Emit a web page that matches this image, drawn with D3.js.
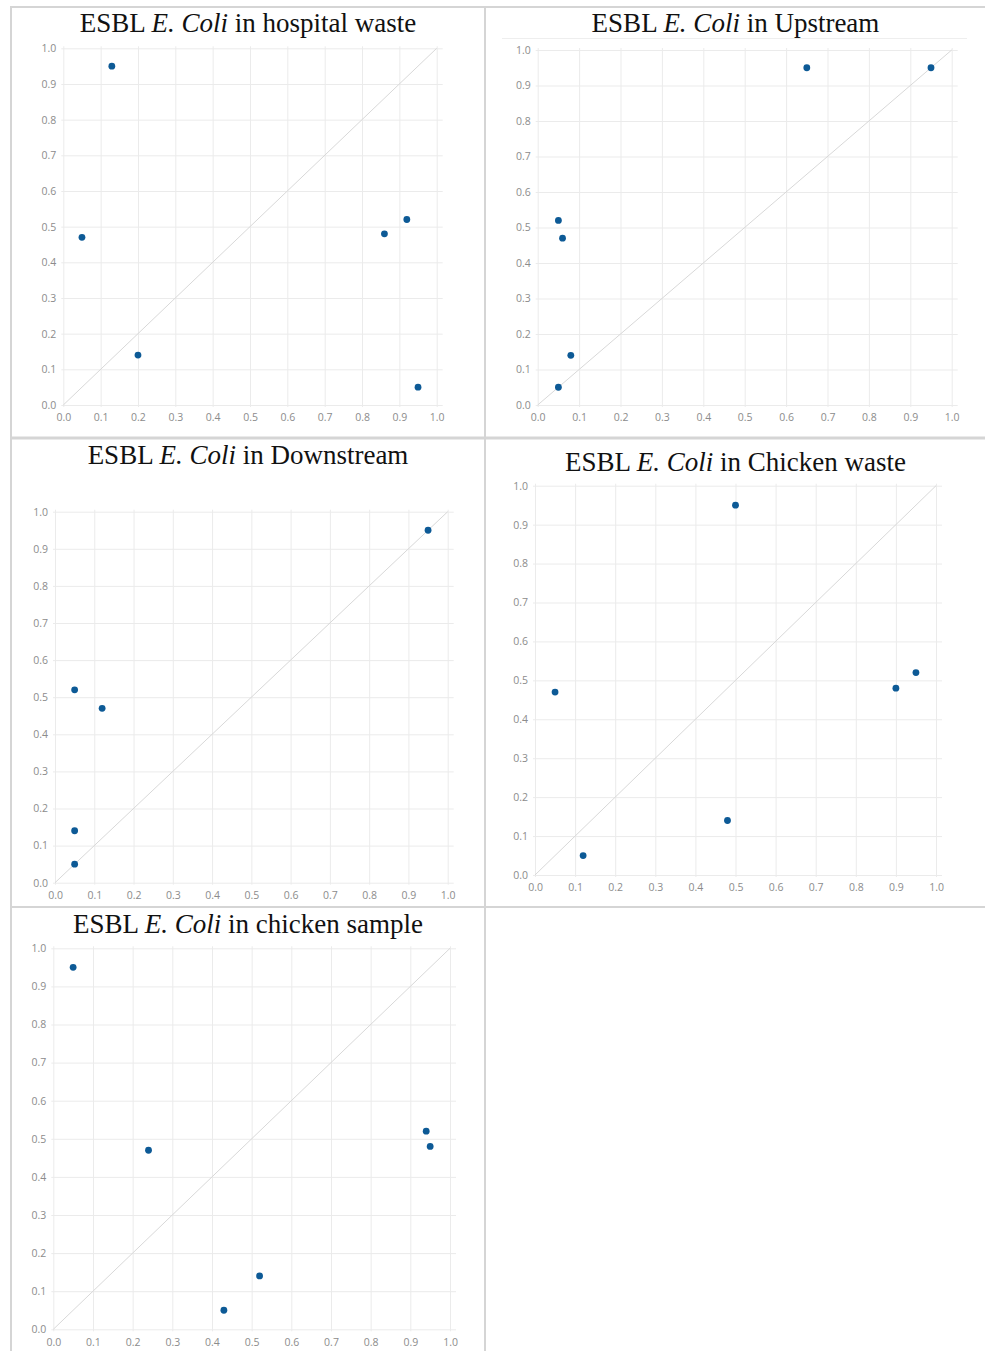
<!DOCTYPE html>
<html>
<head>
<meta charset="utf-8">
<script src="https://cdn.jsdelivr.net/npm/d3@7"></script>
<style>
  html, body { margin: 0; padding: 0; background: #fff; }
  svg { display: block; }
</style>
</head>
<body>
<svg id="chart" width="985" height="1351"></svg>
<script>
// ---------- DATA ----------
const tickValues = [0, 0.1, 0.2, 0.3, 0.4, 0.5, 0.6, 0.7, 0.8, 0.9, 1.0];
const tickLabels = ["0.0","0.1","0.2","0.3","0.4","0.5","0.6","0.7","0.8","0.9","1.0"];

const panelNames = ["hospital waste", "Upstream", "Downstream", "Chicken waste", "chicken sample"];

const hospitalX = [0.05, 0.13, 0.20, 0.86, 0.92, 0.95];
const hospitalY = [0.47, 0.95, 0.14, 0.48, 0.52, 0.05];

const upstreamX = [0.05, 0.06, 0.08, 0.05, 0.65, 0.95];
const upstreamY = [0.52, 0.47, 0.14, 0.05, 0.95, 0.95];

const downstreamX = [0.05, 0.12, 0.05, 0.05, 0.95];
const downstreamY = [0.52, 0.47, 0.14, 0.05, 0.95];

const chickenWasteX = [0.05, 0.12, 0.48, 0.50, 0.90, 0.95];
const chickenWasteY = [0.47, 0.05, 0.14, 0.95, 0.48, 0.52];

const chickenSampleX = [0.05, 0.24, 0.43, 0.52, 0.94, 0.95];
const chickenSampleY = [0.95, 0.47, 0.05, 0.14, 0.52, 0.48];

// ---------- LAYOUT ----------
const layouts = [
  { cx: 248,   ty: 32,  x0: 63.3,  x1: 436.7, yT: 48.3,  yB: 405 },
  { cx: 735.5, ty: 32,  x0: 537.7, x1: 951.7, yT: 50,    yB: 405 },
  { cx: 248,   ty: 464, x0: 55,    x1: 447.7, yT: 511.7, yB: 882.7 },
  { cx: 735.5, ty: 471, x0: 535,   x1: 936,   yT: 485.7, yB: 875 },
  { cx: 248,   ty: 933, x0: 53.3,  x1: 450,   yT: 948.3, yB: 1329.3 }
];
const seriesX = [hospitalX, upstreamX, downstreamX, chickenWasteX, chickenSampleX];
const seriesY = [hospitalY, upstreamY, downstreamY, chickenWasteY, chickenSampleY];

const svg = d3.select("#chart");
const borderColor = "#d5d5d5";
const gridColor = "#ebebeb";
const diagColor = "#d8d8d8";
const tickColor = "#8c8c8c";
const dotColor = "#0d5a96";

// ---------- TABLE BORDERS ----------
const borders = svg.append("g");
borders.append("line").attr("x1", 10).attr("x2", 985).attr("y1", 7).attr("y2", 7)
  .attr("stroke", borderColor).attr("stroke-width", 2);
borders.append("line").attr("x1", 11).attr("x2", 11).attr("y1", 6).attr("y2", 1351)
  .attr("stroke", borderColor).attr("stroke-width", 2);
borders.append("line").attr("x1", 485).attr("x2", 485).attr("y1", 6).attr("y2", 1351)
  .attr("stroke", borderColor).attr("stroke-width", 2);
borders.append("line").attr("x1", 10).attr("x2", 985).attr("y1", 438).attr("y2", 438)
  .attr("stroke", borderColor).attr("stroke-width", 3);
borders.append("line").attr("x1", 10).attr("x2", 985).attr("y1", 907).attr("y2", 907)
  .attr("stroke", borderColor).attr("stroke-width", 2);

// faint line under Upstream title
svg.append("line").attr("x1", 502).attr("x2", 967).attr("y1", 38.5).attr("y2", 38.5)
  .attr("stroke", "#eeeeee").attr("stroke-width", 1);

// ---------- PANELS ----------
layouts.forEach((L, i) => {
  const g = svg.append("g");
  const x = d3.scaleLinear().domain([0, 1]).range([L.x0, L.x1]);
  const y = d3.scaleLinear().domain([0, 1]).range([L.yB, L.yT]);

  // Title
  const t = g.append("text")
    .attr("x", L.cx).attr("y", L.ty)
    .attr("text-anchor", "middle")
    .attr("font-family", "'Liberation Serif', 'Times New Roman', serif")
    .attr("font-size", 27)
    .attr("fill", "#111");
  t.append("tspan").text("ESBL ");
  t.append("tspan").attr("font-style", "italic").text("E. Coli");
  t.append("tspan").text(" in " + panelNames[i]);

  // Vertical gridlines via x axis
  const xGrid = d3.axisBottom(x).tickValues(tickValues)
    .tickSize(-(L.yB - L.yT) - 4).tickFormat("");
  g.append("g").attr("transform", `translate(0,${L.yB + 2})`).call(xGrid)
    .call(a => a.select(".domain").remove())
    .call(a => a.selectAll("line").attr("stroke", gridColor));

  // Horizontal gridlines via y axis
  const yGrid = d3.axisLeft(y).tickValues(tickValues)
    .tickSize(-(L.x1 - L.x0) - 8).tickFormat("");
  g.append("g").attr("transform", `translate(${L.x0 - 2},0)`).call(yGrid)
    .call(a => a.select(".domain").remove())
    .call(a => a.selectAll("line").attr("stroke", gridColor));

  // X tick labels
  const xAxis = d3.axisBottom(x).tickValues(tickValues)
    .tickSize(0).tickPadding(7).tickFormat((d, k) => tickLabels[k]);
  g.append("g").attr("transform", `translate(0,${L.yB + 2})`).call(xAxis)
    .call(a => a.select(".domain").remove())
    .call(a => a.selectAll("text")
      .attr("fill", tickColor)
      .attr("font-family", "'Open Sans', 'DejaVu Sans', sans-serif")
      .attr("font-size", 10.5));

  // Y tick labels
  const yAxis = d3.axisLeft(y).tickValues(tickValues)
    .tickSize(0).tickPadding(5).tickFormat((d, k) => tickLabels[k]);
  g.append("g").attr("transform", `translate(${L.x0 - 2},0)`).call(yAxis)
    .call(a => a.select(".domain").remove())
    .call(a => a.selectAll("text")
      .attr("fill", tickColor)
      .attr("font-family", "'Open Sans', 'DejaVu Sans', sans-serif")
      .attr("font-size", 10.5));

  // Diagonal reference line
  g.append("line")
    .attr("x1", x(0)).attr("y1", y(0))
    .attr("x2", x(1)).attr("y2", y(1))
    .attr("stroke", diagColor).attr("stroke-width", 1);

  // Points
  const pts = seriesX[i].map((v, k) => ({ x: v, y: seriesY[i][k] }));
  g.selectAll("circle.pt").data(pts).enter().append("circle")
    .attr("class", "pt")
    .attr("cx", d => x(d.x)).attr("cy", d => y(d.y))
    .attr("r", 3.4)
    .attr("fill", dotColor);
});
</script>
</body>
</html>
